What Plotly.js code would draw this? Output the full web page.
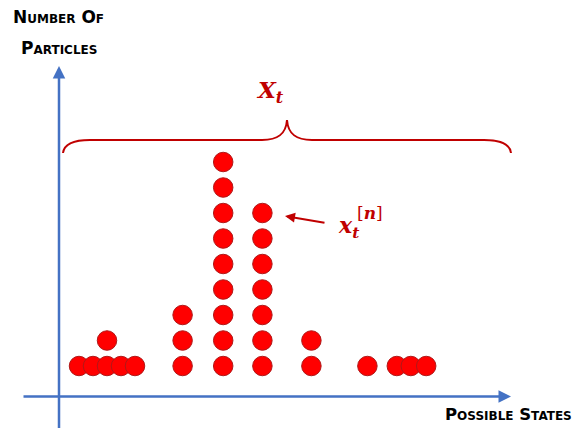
<!DOCTYPE html>
<html>
<head>
<meta charset="utf-8">
<script src="https://cdn.plot.ly/plotly-3.0.1.min.js"></script>
<style>html,body{margin:0;padding:0;background:#fff;}#chart{width:575px;height:428px;}</style>
</head>
<body>
<div id="chart"></div>
<script>
// Data: state positions (arbitrary state units) and number of particles at each
var statePositions = [1.0, 2.0, 3.0, 4.0, 5.0, 8.4, 11.3, 14.1, 17.6, 21.6, 23.7, 24.7, 25.8];
var particleCounts = [1, 1, 2, 1, 1, 3, 9, 7, 2, 1, 1, 1, 1];
var yTitle = ["Number Of", "Particles"];
var xTitle = "Possible States";
var setLabel = "X";
var setSub = "t";
var particleLabel = "x";
var particleSub = "t";
var particleSup = "n";

// expand into stacked particles
var px = [], py = [];
for (var i = 0; i < statePositions.length; i++) {
  for (var k = 1; k <= particleCounts[i]; k++) {
    px.push(statePositions[i]);
    py.push(k);
  }
}

var red = "#C00000";
var blue = "#4472C4";

var traces = [{
  type: "scatter", mode: "markers", x: px, y: py,
  marker: {size: 19.5, color: "#FF0000", line: {color: "#B01818", width: 1}},
  hoverinfo: "skip", showlegend: false, cliponaxis: false
}];

var capFont = {family: "'DejaVu Sans', sans-serif", size: 17, color: "#000", weight: "bold", variant: "small-caps"};
var capFontX = {family: "'DejaVu Sans', sans-serif", size: 16.5, color: "#000", weight: "bold", variant: "small-caps"};

var layout = {
  width: 575, height: 428,
  margin: {l: 0, r: 0, t: 0, b: 0},
  paper_bgcolor: "#fff", plot_bgcolor: "#fff",
  showlegend: false,
  xaxis: {range: [-4.6429, 36.4286], visible: false, fixedrange: true},
  yaxis: {range: [-1.4314, 15.3529], visible: false, fixedrange: true},
  xaxis2: {range: [0, 575], visible: false, overlaying: "x", anchor: "y2"},
  yaxis2: {range: [428, 0], visible: false, overlaying: "y", anchor: "x2"},
  shapes: [{
    type: "path", xref: "x2", yref: "y2",
    path: "M 63 153 C 64 145, 72 140, 90 140 L 262 140 C 278 140, 286 134, 287 120 C 288 134, 296 140, 312 140 L 484 140 C 502 140, 510 145, 511 153",
    line: {color: red, width: 2}
  }],
  annotations: [
    // axes arrows
    {xref: "x2", yref: "y2", axref: "x2", ayref: "y2", x: 59, y: 66, ax: 59, ay: 430,
     text: "", showarrow: true, arrowhead: 2, arrowsize: 1, arrowwidth: 2.5, arrowcolor: blue},
    {xref: "x2", yref: "y2", axref: "x2", ayref: "y2", x: 511, y: 396.5, ax: 22, ay: 396.5,
     text: "", showarrow: true, arrowhead: 2, arrowsize: 1, arrowwidth: 2.5, arrowcolor: blue},
    // particle arrow
    {xref: "x2", yref: "y2", axref: "x2", ayref: "y2", x: 285, y: 216, ax: 326, ay: 223,
     text: "", showarrow: true, arrowhead: 2, arrowsize: 1, arrowwidth: 2, arrowcolor: red},
    // titles
    {xref: "x2", yref: "y2", x: 58, y: 17, text: yTitle[0], showarrow: false, font: capFont, xanchor: "center", yanchor: "middle"},
    {xref: "x2", yref: "y2", x: 59, y: 48, text: yTitle[1], showarrow: false, font: capFont, xanchor: "center", yanchor: "middle"},
    {xref: "x2", yref: "y2", x: 574, y: 414, text: xTitle, showarrow: false, font: capFontX, xanchor: "right", yanchor: "middle"},
    // X_t
    {xref: "x2", yref: "y2", x: 254, y: 91, xanchor: "left", yanchor: "middle", showarrow: false,
     text: "<b><i>" + setLabel + "</i></b><sub><b><i>" + setSub + "</i></b></sub>",
     font: {family: "'DejaVu Serif', serif", size: 23, color: red}},
    // x_t^[n]
    {xref: "x2", yref: "y2", x: 336, y: 227, xanchor: "left", yanchor: "middle", showarrow: false,
     text: "<b><i>" + particleLabel + "</i></b><sub><b><i>" + particleSub + "</i></b></sub>",
     font: {family: "'DejaVu Serif', serif", size: 22, color: red}},
    {xref: "x2", yref: "y2", x: 355, y: 213, xanchor: "left", yanchor: "middle", showarrow: false,
     text: "[<b><i>" + particleSup + "</i></b>]",
     font: {family: "'DejaVu Serif', serif", size: 17, color: red}}
  ]
};

Plotly.newPlot("chart", traces, layout, {displayModeBar: false, staticPlot: true});
</script>
</body>
</html>
